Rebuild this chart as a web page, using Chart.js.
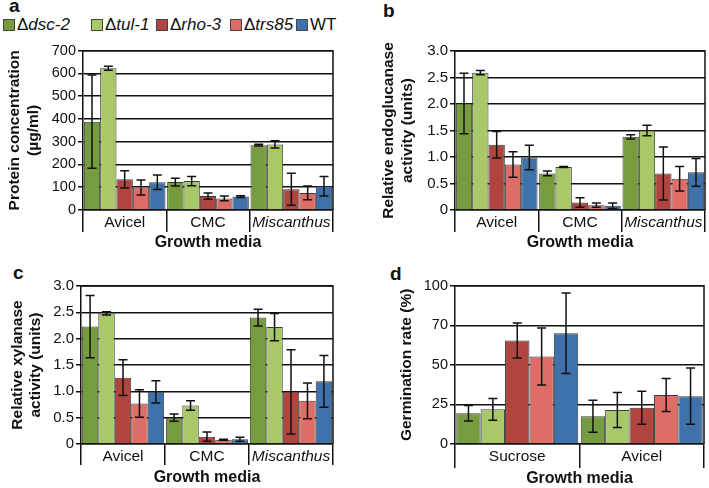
<!DOCTYPE html>
<html>
<head>
<meta charset="utf-8">
<script src="https://cdn.jsdelivr.net/npm/chart.js@4.4.1/dist/chart.umd.min.js"></script>
<style>
body{margin:0;background:#fff;width:709px;height:488px;position:relative;overflow:hidden;font-family:"Liberation Sans",Arial,sans-serif;color:#111}
.box{position:absolute}
.tag{position:absolute;font-weight:bold;font-size:19px;line-height:19px}
.key{position:absolute;top:15px;height:20px;display:flex;align-items:center;font-size:17px;white-space:nowrap}
.key span.sw{display:inline-block;width:10px;height:10px;border:1px solid #444;margin-right:2px}
</style>
</head>
<body>
<div class="tag" style="left:9px;top:-4px">a</div>
<div class="tag" style="left:383px;top:1px">b</div>
<div class="tag" style="left:13px;top:263px">c</div>
<div class="tag" style="left:390px;top:264px">d</div>
<div id="legend"></div>

<div class="box" style="left:0;top:40px;width:340px;height:212px"><canvas id="chA"></canvas></div>
<div class="box" style="left:375px;top:40px;width:334px;height:212px"><canvas id="chB"></canvas></div>
<div class="box" style="left:0;top:275px;width:340px;height:212px"><canvas id="chC"></canvas></div>
<div class="box" style="left:375px;top:275px;width:334px;height:213px"><canvas id="chD"></canvas></div>

<script>
// strains (legend) and colours
var strains = ['dsc-2', 'tul-1', 'rho-3', 'trs85', 'WT'];
var colors = ['#779b3f', '#a9c869', '#b0443f', '#df6c66', '#3f72ab'];

var mediaABC = ['Avicel', 'CMC', 'Miscanthus'];
var mediaD = ['Sucrose', 'Avicel'];

// a: protein concentration (ug/ml), one row per strain
var proteinMean = [[388, 123, 285], [623, 127, 288], [135, 61, 91], [99, 51, 75], [122, 59, 104]];
var proteinErr = [[205, 17, 4], [9, 20, 16], [38, 14, 70], [33, 10, 30], [32, 4, 43]];

// b: relative endoglucanase activity
var endoMean = [[2.01, 0.69, 1.38], [2.59, 0.81, 1.5], [1.23, 0.14, 0.69], [0.86, 0.09, 0.59], [0.99, 0.08, 0.71]];
var endoErr = [[0.57, 0.045, 0.04], [0.04, 0.01, 0.1], [0.25, 0.09, 0.5], [0.24, 0.04, 0.23], [0.23, 0.05, 0.26]];

// c: relative xylanase activity
var xylMean = [[2.23, 0.5, 2.4], [2.48, 0.73, 2.22], [1.26, 0.14, 0.99], [0.77, 0.08, 0.82], [0.99, 0.09, 1.19]];
var xylErr = [[0.59, 0.07, 0.16], [0.03, 0.09, 0.26], [0.34, 0.09, 0.8], [0.26, 0.01, 0.34], [0.21, 0.04, 0.49]];

// d: germination rate (%)
var germMean = [[19.4, 17.5], [21.9, 21.5], [65.4, 22.9], [55.2, 31], [70, 30.2]];
var germErr = [[4.9, 10.1], [6.9, 11], [11, 10.4], [18, 10.4], [25.4, 17.8]];

var ticksA = ['0', '100', '200', '300', '400', '500', '600', '700'];
var ticksBC = ['0', '0.5', '1.0', '1.5', '2.0', '2.5', '3.0'];
var ticksD = ['0', '25', '50', '70', '100'];

Chart.defaults.font.family = '"Liberation Sans", Arial, sans-serif';
Chart.defaults.color = '#111';

// html legend, delta upright, name italic
var legendX = [3, 91, 156, 230, 296];
var lg = document.getElementById('legend');
strains.forEach(function (s, k) {
    var d = document.createElement('div');
    d.className = 'key';
    d.style.left = legendX[k] + 'px';
    var name = s === 'WT' ? 'WT' : '\u0394<i>' + s + '</i>';
    d.innerHTML = '<span class="sw" style="background:' + colors[k] + '"></span>' + name;
    lg.appendChild(d);
});

var errorBars = {
    id: 'errorBars',
    afterDatasetsDraw: function (chart) {
        var ctx = chart.ctx, y = chart.scales.y;
        ctx.save();
        ctx.strokeStyle = '#111';
        ctx.lineWidth = 1.5;
        chart.data.datasets.forEach(function (ds, k) {
            chart.getDatasetMeta(k).data.forEach(function (bar, i) {
                var e = ds.errors[i];
                var t = y.getPixelForValue(ds.data[i] + e);
                var b = y.getPixelForValue(ds.data[i] - e);
                ctx.beginPath();
                ctx.moveTo(bar.x, t); ctx.lineTo(bar.x, b);
                ctx.moveTo(bar.x - 4.5, t); ctx.lineTo(bar.x + 4.5, t);
                ctx.moveTo(bar.x - 4.5, b); ctx.lineTo(bar.x + 4.5, b);
                ctx.stroke();
            });
        });
        ctx.restore();
    }
};

var frame = {
    id: 'frame',
    afterDraw: function (chart) {
        var a = chart.chartArea, ctx = chart.ctx;
        ctx.save();
        ctx.strokeStyle = '#111';
        ctx.lineWidth = 1.5;
        ctx.beginPath();
        ctx.moveTo(a.left, a.top); ctx.lineTo(a.right, a.top); ctx.lineTo(a.right, a.bottom);
        ctx.stroke();
        ctx.restore();
    }
};

function panel(id, cats, means, errs, yMax, yStep, yLabels, yTitle, o) {
    return new Chart(document.getElementById(id), {
        type: 'bar',
        data: {
            labels: cats,
            datasets: strains.map(function (s, k) {
                return {
                    label: s,
                    data: means[k],
                    errors: errs[k],
                    backgroundColor: colors[k],
                    borderColor: '#3a3a3a',
                    borderWidth: 1,
                    categoryPercentage: 0.98,
                    barPercentage: 1
                };
            })
        },
        options: {
            responsive: true,
            maintainAspectRatio: false,
            animation: false,
            layout: { padding: { top: 9, right: o.right, left: 0, bottom: 0 } },
            plugins: { legend: { display: false }, tooltip: { enabled: false } },
            scales: {
                x: {
                    grid: { offset: true, drawOnChartArea: false, color: '#111', lineWidth: 1.5, tickLength: o.tick },
                    border: { display: true, color: '#111', width: 1.5 },
                    ticks: {
                        padding: o.pad,
                        autoSkip: false,
                        minRotation: 0,
                        maxRotation: 0,
                        font: function (c) {
                            return { size: 15.5, style: cats[c.index] === 'Miscanthus' ? 'italic' : 'normal' };
                        }
                    },
                    title: { display: true, text: 'Growth media', font: { size: 16, weight: 'bold' }, padding: { top: 0, bottom: 0 } },
                    afterFit: function (s) { s.height = o.xh; }
                },
                y: {
                    min: 0,
                    max: yMax,
                    ticks: { stepSize: yStep, padding: 2, font: { size: o.ts }, callback: function (v, i) { return yLabels[i]; } },
                    grid: { color: '#111', lineWidth: 1.5, tickLength: 5 },
                    border: { color: '#111', width: 1.5 },
                    title: { display: true, text: yTitle, font: { size: 15.5, weight: 'bold', lineHeight: 1.2 }, padding: { top: o.tp, bottom: 0 } },
                    afterFit: function (s) { s.width = o.yw; }
                }
            }
        },
        plugins: [errorBars, frame]
    });
}

panel('chA', mediaABC, proteinMean, proteinErr, 700, 100, ticksA, ['Protein concentration', '(\u00b5g/ml)'],
    { right: 7, yw: 83, xh: 42, tick: 22, pad: -18.3, tp: 5.7, ts: 14.5 });
panel('chB', mediaABC, endoMean, endoErr, 3, 0.5, ticksBC, ['Relative endoglucanase', 'activity (units)'],
    { right: 4, yw: 80, xh: 42, tick: 22, pad: -18.3, tp: 4.7, ts: 15 });
panel('chC', mediaABC, xylMean, xylErr, 3, 0.5, ticksBC, ['Relative xylanase', 'activity (units)'],
    { right: 7, yw: 81, xh: 43, tick: 21, pad: -17.6, tp: 8.2, ts: 15 });
panel('chD', mediaD, germMean, germErr, 100, 25, ticksD, 'Germination rate (%)',
    { right: 5, yw: 80, xh: 44, tick: 24, pad: -20.6, tp: 22.7, ts: 14.5 });
</script>
</body>
</html>
